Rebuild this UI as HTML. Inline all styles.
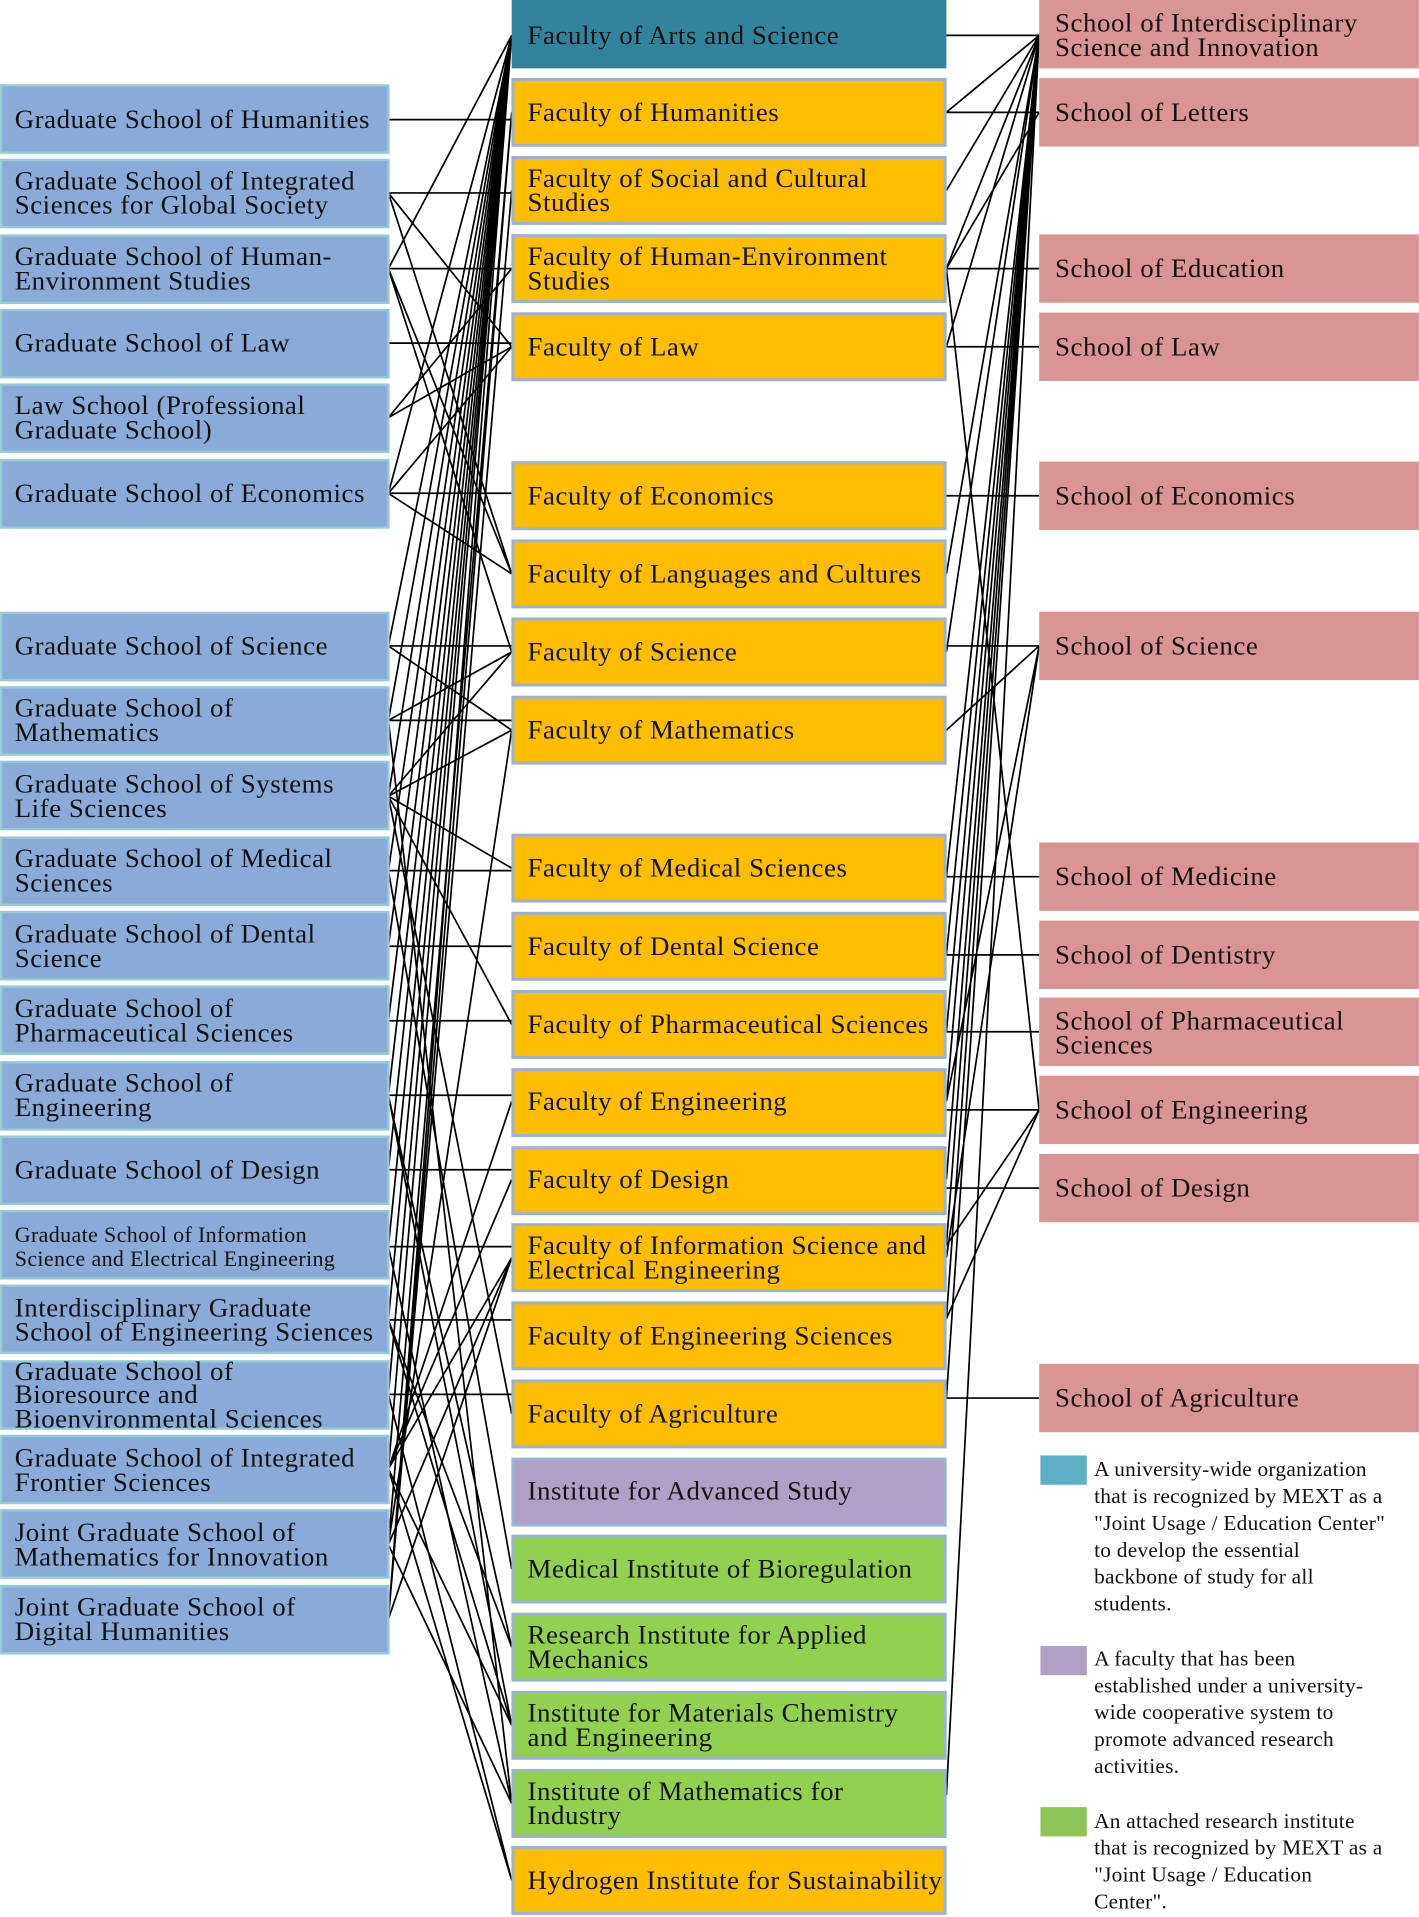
<!DOCTYPE html>
<html><head><meta charset="utf-8"><style>
html,body{margin:0;padding:0;background:#fff}
svg{display:block}
text{font-family:"Liberation Serif",serif;font-size:22px;letter-spacing:0.45px;fill:#111}
.lg{font-size:17.5px;letter-spacing:0.2px}
</style></head><body>
<svg width="1419" height="1917" viewBox="0 0 1162 1570" xmlns="http://www.w3.org/2000/svg">
<g stroke="#000" stroke-width="1.4" fill="none">
<path d="
M318 98L419 98 M318 158L419 158 M318 158L419 284 M318 158L419 470
M318 220L419 29 M318 220L419 220 M318 220L419 470 M318 220L419 534
M318 281L419 281 M318 342L419 284 M318 342L419 220
M318 404L419 404 M318 404L419 470 M318 404L419 284 M318 404L419 29
M318 529L419 529 M318 529L419 598 M318 529L419 29
M318 590L419 590 M318 590L419 534 M318 590L419 1477 M318 590L419 29
M318 652L419 534 M318 652L419 598 M318 652L419 711 M318 652L419 839 M318 652L419 1158 M318 652L419 29
M318 713L419 713 M318 713L419 1285 M318 713L419 29
M318 775L419 775 M318 775L419 29
M318 836L419 836 M318 836L419 29
M318 897L419 897 M318 897L419 1349 M318 897L419 1413 M318 897L419 29
M318 958L419 958 M318 958L419 29
M318 1021L419 1021 M318 1021L419 29 M318 1021L419 1477
M318 1081L419 1081 M318 1081L419 1349 M318 1081L419 1413 M318 1081L419 29
M318 1142L419 1142 M318 1142L419 1540 M318 1142L419 29
M318 1203L419 1030 M318 1203L419 966 M318 1203L419 902 M318 1203L419 1413 M318 1203L419 1540 M318 1203L419 29
M318 1265L419 598 M318 1265L419 1477 M318 1265L419 1030 M318 1265L419 92
M318 1326L419 92 M318 1326L419 1030 M318 1326L419 29 M318 1326L419 156
"/>
<path d="
M775 29L851 29 M775 92L851 29 M775 92L851 92 M775 156L851 29
M775 220L851 92 M775 220L851 29 M775 220L851 220 M775 220L851 909
M775 284L851 284 M775 284L851 29 M775 406L851 406 M775 470L851 29
M775 529L851 529 M775 534L851 29 M775 598L851 529
M775 718L851 718 M775 718L851 29 M775 782L851 782 M775 782L851 29 M775 845L851 845 M775 845L851 29
M775 909L851 909 M775 902L851 529 M775 902L851 29
M775 973L851 973 M775 966L851 29
M775 1020L851 909 M775 1020L851 29 M775 1030L851 529
M775 1080L851 909 M775 1080L851 29
M775 1145L851 1145 M775 1145L851 29
M775 1470L851 29
"/>
</g>
<g fill="#8aabd8" stroke="#93cad6" stroke-width="2">
<rect x="1" y="70" width="317" height="55"/>
<rect x="1" y="131" width="317" height="55"/>
<rect x="1" y="193" width="317" height="55"/>
<rect x="1" y="254" width="317" height="55"/>
<rect x="1" y="315" width="317" height="55"/>
<rect x="1" y="377" width="317" height="55"/>
<rect x="1" y="502" width="317" height="55"/>
<rect x="1" y="563" width="317" height="55"/>
<rect x="1" y="624" width="317" height="55"/>
<rect x="1" y="686" width="317" height="55"/>
<rect x="1" y="747" width="317" height="55"/>
<rect x="1" y="808" width="317" height="55"/>
<rect x="1" y="870" width="317" height="55"/>
<rect x="1" y="931" width="317" height="55"/>
<rect x="1" y="992" width="317" height="55"/>
<rect x="1" y="1053" width="317" height="55"/>
<rect x="1" y="1115" width="317" height="55"/>
<rect x="1" y="1176" width="317" height="55"/>
<rect x="1" y="1237" width="317" height="55"/>
<rect x="1" y="1299" width="317" height="55"/>
</g>
<rect x="419" y="0" width="356" height="56" fill="#31849b"/>
<g fill="#fdbd00" stroke="#9ab3d5" stroke-width="2.5">
<rect x="420" y="65" width="354" height="54"/>
<rect x="420" y="129" width="354" height="54"/>
<rect x="420" y="193" width="354" height="54"/>
<rect x="420" y="257" width="354" height="54"/>
<rect x="420" y="379" width="354" height="54"/>
<rect x="420" y="443" width="354" height="54"/>
<rect x="420" y="507" width="354" height="54"/>
<rect x="420" y="571" width="354" height="54"/>
<rect x="420" y="684" width="354" height="54"/>
<rect x="420" y="748" width="354" height="54"/>
<rect x="420" y="812" width="354" height="54"/>
<rect x="420" y="876" width="354" height="54"/>
<rect x="420" y="940" width="354" height="54"/>
<rect x="420" y="1003" width="354" height="54"/>
<rect x="420" y="1067" width="354" height="54"/>
<rect x="420" y="1131" width="354" height="54"/>
<rect x="420" y="1195" width="354" height="54" fill="#b0a0c8"/>
<rect x="420" y="1258" width="354" height="54" fill="#92d050"/>
<rect x="420" y="1322" width="354" height="54" fill="#92d050"/>
<rect x="420" y="1386" width="354" height="54" fill="#92d050"/>
<rect x="420" y="1450" width="354" height="54" fill="#92d050"/>
<rect x="420" y="1513" width="354" height="54"/>
</g>
<g fill="#d99594">
<rect x="851" y="0" width="311" height="56"/>
<rect x="851" y="64" width="311" height="56"/>
<rect x="851" y="192" width="311" height="56"/>
<rect x="851" y="256" width="311" height="56"/>
<rect x="851" y="378" width="311" height="56"/>
<rect x="851" y="501" width="311" height="56"/>
<rect x="851" y="690" width="311" height="56"/>
<rect x="851" y="754" width="311" height="56"/>
<rect x="851" y="817" width="311" height="56"/>
<rect x="851" y="881" width="311" height="56"/>
<rect x="851" y="945" width="311" height="56"/>
<rect x="851" y="1117" width="311" height="56"/>
</g>
<rect x="852" y="1192" width="38" height="24" fill="#5eaec6"/>
<rect x="852" y="1348" width="38" height="24" fill="#b0a0c8"/>
<rect x="852" y="1480" width="38" height="24" fill="#8cc456"/>
<g>
<text x="12" y="105">Graduate School of Humanities</text>
<text x="12" y="155">Graduate School of Integrated</text><text x="12" y="175">Sciences for Global Society</text>
<text x="12" y="217">Graduate School of Human-</text><text x="12" y="237">Environment Studies</text>
<text x="12" y="288">Graduate School of Law</text>
<text x="12" y="339">Law School (Professional</text><text x="12" y="359">Graduate School)</text>
<text x="12" y="411">Graduate School of Economics</text>
<text x="12" y="536">Graduate School of Science</text>
<text x="12" y="587">Graduate School of</text><text x="12" y="607">Mathematics</text>
<text x="12" y="649">Graduate School of Systems</text><text x="12" y="669">Life Sciences</text>
<text x="12" y="710">Graduate School of Medical</text><text x="12" y="730">Sciences</text>
<text x="12" y="772">Graduate School of Dental</text><text x="12" y="792">Science</text>
<text x="12" y="833">Graduate School of</text><text x="12" y="853">Pharmaceutical Sciences</text>
<text x="12" y="894">Graduate School of</text><text x="12" y="914">Engineering</text>
<text x="12" y="965">Graduate School of Design</text>
<text x="12" y="1017" style="font-size:18px;letter-spacing:0.3px">Graduate School of Information</text><text x="12" y="1037" style="font-size:18px;letter-spacing:0.3px">Science and Electrical Engineering</text>
<text x="12" y="1078">Interdisciplinary Graduate</text><text x="12" y="1098">School of Engineering Sciences</text>
<text x="12" y="1130">Graduate School of</text><text x="12" y="1149">Bioresource and</text><text x="12" y="1169">Bioenvironmental Sciences</text>
<text x="12" y="1201">Graduate School of Integrated</text><text x="12" y="1221">Frontier Sciences</text>
<text x="12" y="1262">Joint Graduate School of</text><text x="12" y="1282">Mathematics for Innovation</text>
<text x="12" y="1323">Joint Graduate School of</text><text x="12" y="1343">Digital Humanities</text>
</g>
<g>
<text x="432" y="36">Faculty of Arts and Science</text>
<text x="432" y="99">Faculty of Humanities</text>
<text x="432" y="153">Faculty of Social and Cultural</text><text x="432" y="173">Studies</text>
<text x="432" y="217">Faculty of Human-Environment</text><text x="432" y="237">Studies</text>
<text x="432" y="291">Faculty of Law</text>
<text x="432" y="413">Faculty of Economics</text>
<text x="432" y="477">Faculty of Languages and Cultures</text>
<text x="432" y="541">Faculty of Science</text>
<text x="432" y="605">Faculty of Mathematics</text>
<text x="432" y="718">Faculty of Medical Sciences</text>
<text x="432" y="782">Faculty of Dental Science</text>
<text x="432" y="846">Faculty of Pharmaceutical Sciences</text>
<text x="432" y="909">Faculty of Engineering</text>
<text x="432" y="973">Faculty of Design</text>
<text x="432" y="1027">Faculty of Information Science and</text><text x="432" y="1047">Electrical Engineering</text>
<text x="432" y="1101">Faculty of Engineering Sciences</text>
<text x="432" y="1165">Faculty of Agriculture</text>
<text x="432" y="1228">Institute for Advanced Study</text>
<text x="432" y="1292">Medical Institute of Bioregulation</text>
<text x="432" y="1346">Research Institute for Applied</text><text x="432" y="1366">Mechanics</text>
<text x="432" y="1410">Institute for Materials Chemistry</text><text x="432" y="1430">and Engineering</text>
<text x="432" y="1474">Institute of Mathematics for</text><text x="432" y="1494">Industry</text>
<text x="432" y="1547">Hydrogen Institute for Sustainability</text>
</g>
<g>
<text x="864" y="26">School of Interdisciplinary</text><text x="864" y="46">Science and Innovation</text>
<text x="864" y="99">School of Letters</text>
<text x="864" y="227">School of Education</text>
<text x="864" y="291">School of Law</text>
<text x="864" y="413">School of Economics</text>
<text x="864" y="536">School of Science</text>
<text x="864" y="725">School of Medicine</text>
<text x="864" y="789">School of Dentistry</text>
<text x="864" y="843">School of Pharmaceutical</text><text x="864" y="863">Sciences</text>
<text x="864" y="916">School of Engineering</text>
<text x="864" y="980">School of Design</text>
<text x="864" y="1152">School of Agriculture</text>
</g>
<g>
<text class="lg" x="896" y="1209">A university-wide organization</text>
<text class="lg" x="896" y="1231">that is recognized by MEXT as a</text>
<text class="lg" x="896" y="1253">"Joint Usage / Education Center"</text>
<text class="lg" x="896" y="1275">to develop the essential</text>
<text class="lg" x="896" y="1297">backbone of study for all</text>
<text class="lg" x="896" y="1319">students.</text>
<text class="lg" x="896" y="1364">A faculty that has been</text>
<text class="lg" x="896" y="1386">established under a university-</text>
<text class="lg" x="896" y="1408">wide cooperative system to</text>
<text class="lg" x="896" y="1430">promote advanced research</text>
<text class="lg" x="896" y="1452">activities.</text>
<text class="lg" x="896" y="1497">An attached research institute</text>
<text class="lg" x="896" y="1519">that is recognized by MEXT as a</text>
<text class="lg" x="896" y="1541">"Joint Usage / Education</text>
<text class="lg" x="896" y="1563">Center".</text>
</g>
</svg>
</body></html>
